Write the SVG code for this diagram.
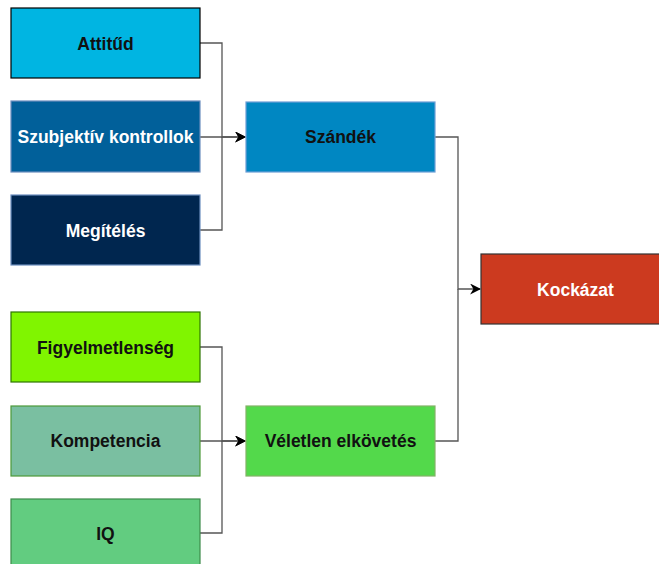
<svg xmlns="http://www.w3.org/2000/svg" width="659" height="564" viewBox="0 0 659 564">
<style>
.n rect{stroke-width:1.2}
.t{font-family:"Liberation Sans",Arial,sans-serif;font-weight:bold;font-size:17.5px;text-anchor:middle;dominant-baseline:central}
.w{fill:#ffffff}
.b{fill:#111111}
.c path{fill:none;stroke:#555555;stroke-width:1.3}
</style>
<defs>
<marker id="ah" viewBox="0 0 10 10" refX="9" refY="5" markerWidth="11" markerHeight="11" markerUnits="userSpaceOnUse" orient="auto">
<path d="M0,0 L10,5 L0,10 L3,5 Z" fill="#000"/>
</marker>
</defs>
<rect width="659" height="564" fill="#ffffff"/>
<g class="c">
<path d="M200,43 H222 V137 H245" marker-end="url(#ah)"/>
<path d="M200,137 H245" marker-end="url(#ah)"/>
<path d="M200,230 H222 V137"/>
<path d="M435,137 H458 V289 H480" marker-end="url(#ah)"/>
<path d="M435,441 H458 V289"/>
<path d="M200,347 H222 V441 H245" marker-end="url(#ah)"/>
<path d="M200,441 H245" marker-end="url(#ah)"/>
<path d="M200,533 H222 V441"/>
</g>
<g id="attitud" class="n"><rect x="11" y="8" width="189" height="70" fill="#00b5e2" stroke="#000000"/><text class="t b" x="105.5" y="44">Attitűd</text></g>
<g id="szubjektiv" class="n"><rect x="11" y="101" width="189" height="71" fill="#01609a" stroke="#6c8ebf"/><text class="t w" x="105.5" y="137">Szubjektív kontrollok</text></g>
<g id="megiteles" class="n"><rect x="11" y="195" width="189" height="70" fill="#00264f" stroke="#6c8ebf"/><text class="t w" x="105.5" y="231">Megítélés</text></g>
<g id="szandek" class="n"><rect x="246" y="102" width="189" height="70" fill="#0087c2" stroke="#6c9ed6"/><text class="t b" x="340.5" y="137">Szándék</text></g>
<g id="kockazat" class="n"><rect x="481" y="254" width="189" height="70" fill="#cc3a1f" stroke="#333333"/><text class="t w" x="575.5" y="290">Kockázat</text></g>
<g id="figyelmetlenseg" class="n"><rect x="11" y="312" width="189" height="70" fill="#80f500" stroke="#2d7600"/><text class="t b" x="105.5" y="348">Figyelmetlenség</text></g>
<g id="kompetencia" class="n"><rect x="11" y="406" width="189" height="70" fill="#7abfa1" stroke="#4d9a3a"/><text class="t b" x="105.5" y="441">Kompetencia</text></g>
<g id="iq" class="n"><rect x="11" y="499" width="189" height="70" fill="#62cc80" stroke="#3d8a4a"/><text class="t b" x="105.5" y="534">IQ</text></g>
<g id="veletlen" class="n"><rect x="246" y="406" width="189" height="70" fill="#53d94b" stroke="#82b366"/><text class="t b" x="340.5" y="441">Véletlen elkövetés</text></g>
</svg>
